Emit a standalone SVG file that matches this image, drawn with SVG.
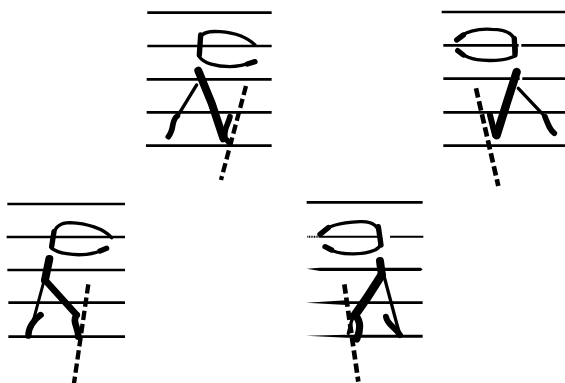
<svg xmlns="http://www.w3.org/2000/svg" width="565" height="383" viewBox="0 0 565 383">
<style>
.s{stroke:#000;stroke-width:8;fill:none;stroke-linecap:butt}
.l{stroke:#000;stroke-width:10;fill:none;stroke-linecap:round;stroke-linejoin:round}
.h{stroke-width:16}
.t{stroke-width:17}
.b{stroke-width:24}
.n{stroke-width:10}
.d{stroke:#000;stroke-width:13;fill:none;stroke-dasharray:28 12}
.g{stroke:#fff;stroke-width:8;fill:none}
</style>
<rect width="565" height="383" fill="#fff"/>
<g id="panel-1" transform="translate(140 0) scale(.3333)">
<path class="s" d="M22 38H395M22 138H395M20 238H395M20 337H395M18 437H395"/>
<path class="l" d="M345 135C320 110 280 98 240 95C210 93 185 95 180 115C178 135 178 160 178 170C190 190 230 200 270 200C295 200 315 195 345 185"/>
<path class="l h" d="M182 105L178 165M322 192L345 185"/>
<path class="l b" d="M175 212L215 310L250 415"/>
<path class="l" d="M170 255L115 345"/>
<path class="l t" d="M112 348C92 362 105 385 85 410"/>
<path class="l t" d="M270 350C265 375 250 385 255 415L270 430"/>
<path class="d" d="M318 258L243 540"/>
</g>
<g id="panel-2" transform="translate(435 0) scale(.3333)">
<path class="s" d="M20 36H390M25 136H390M25 236H390M25 337H390M25 437H390"/>
<path class="g" d="M255 124V148M258 226V246"/>
<path class="l" d="M65 120C85 95 130 85 170 88C210 88 235 100 240 125C245 145 245 165 235 170C200 185 130 185 100 172C85 165 75 160 68 152"/>
<path class="l h" d="M238 115L240 165M65 120L85 105M68 152L85 165"/>
<path class="l" style="stroke-width:25" d="M245 216L215 310L185 406"/>
<path class="l" style="stroke-width:18" d="M165 345L180 405"/>
<path class="l n" d="M250 265L330 350"/>
<path class="l t" d="M330 350C340 375 345 390 358 400"/>
<path class="d" style="stroke-width:14" d="M123 265L190 558"/>
</g>
<g id="panel-3" transform="translate(0 195) scale(.3333)">
<path class="s" d="M22 27H375M20 126H375M22 225H375M25 323H375M25 425H375"/>
<path class="l" d="M335 128C310 100 260 85 210 83C180 83 165 95 160 120C155 140 152 150 155 160C175 175 220 182 260 178C290 175 305 168 322 160"/>
<path class="l h" d="M162 110L155 155M300 168L320 160"/>
<path class="l b" d="M148 192L135 255"/>
<path class="l" style="stroke-width:20" d="M135 255L230 360"/>
<path class="l" style="stroke-width:20" d="M230 360C215 380 235 395 235 425"/>
<path class="l" style="stroke-width:9" d="M130 265L95 395"/>
<path class="l" style="stroke-width:19" d="M122 360C100 375 85 400 85 422"/>
<path class="d" d="M265 268L222 565"/>
</g>
<g id="panel-4" transform="translate(300 195) scale(.3333)">
<path class="s" d="M20 22H368"/>
<path class="s" style="stroke-width:6" d="M60 125H240M270 125H370"/>
<path class="s" style="stroke-width:6;stroke-dasharray:3 2" d="M22 125H60"/>
<path d="M20 221L60 218H362L368 223L362 228H60ZM18 323L140 316V330ZM140 319H368V327H140ZM18 422L140 419H368V428H140Z"/>
<path class="l" d="M60 118C80 90 130 82 180 80C215 78 235 90 240 120C245 140 245 155 225 165C190 180 130 180 100 168C90 162 85 158 75 155"/>
<path class="l h" d="M60 118L85 98M75 155L95 165M235 95L243 150"/>
<path class="l b" d="M240 198L245 235"/>
<path class="l" style="stroke-width:26" d="M245 240L200 310L165 360"/>
<path class="l" style="stroke-width:22" d="M165 360C185 380 180 410 170 432"/>
<path class="l" style="stroke-width:10" d="M160 365C150 385 150 400 145 415"/>
<path class="l n" d="M250 235L290 385L300 420"/>
<path class="l" style="stroke-width:18" d="M258 365C262 390 285 395 300 420"/>
<path class="d" style="stroke-width:14" d="M133 268L175 560"/>
</g>
</svg>
